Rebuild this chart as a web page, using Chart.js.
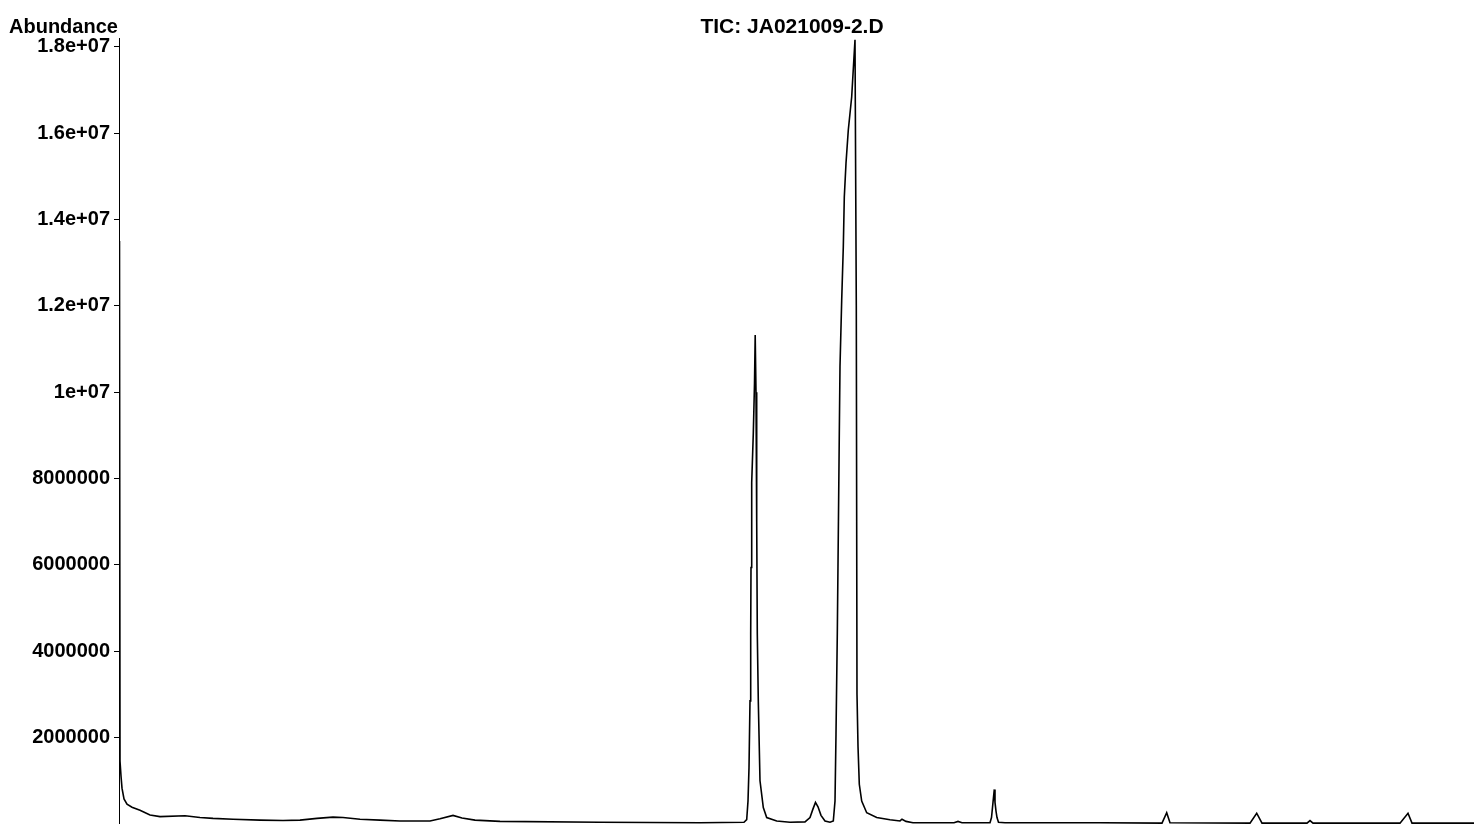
<!DOCTYPE html>
<html>
<head>
<meta charset="utf-8">
<title>TIC: JA021009-2.D</title>
<script src="https://cdn.jsdelivr.net/npm/chart.js"></script>
<style>
  html, body { margin: 0; padding: 0; background: #fff; }
  #wrap { width: 1474px; height: 824px; position: relative; overflow: hidden; }
</style>
</head>
<body>
<div id="wrap"><canvas id="tic" width="1474" height="824"></canvas></div>
<script>
// retention time (min) and abundance (counts)
var rtMin = [
  2.01, 2.02, 2.04, 2.06, 2.10, 2.16, 2.26, 2.42, 2.62, 2.82,
  3.32, 3.62, 3.88, 4.28, 4.82, 5.28, 5.62, 5.96, 6.28, 6.48,
  6.82, 7.22, 7.62, 8.22, 8.42, 8.68, 8.86, 9.12, 9.62, 11.62,
  13.62, 14.50, 14.554, 14.58, 14.60, 14.62, 14.634, 14.64, 14.654, 14.686,
  14.71, 14.724, 14.74, 14.754, 14.766, 14.786, 14.82, 14.886, 14.954, 15.154,
  15.42, 15.72, 15.82, 15.88, 15.93, 15.98, 16.04, 16.12, 16.22, 16.286,
  16.32, 16.34, 16.366, 16.386, 16.406, 16.42, 16.454, 16.486, 16.506, 16.54,
  16.586, 16.654, 16.72, 16.746, 16.76, 16.78, 16.806, 16.854, 16.954, 17.154,
  17.42, 17.62, 17.66, 17.74, 17.88, 18.70, 18.78, 18.86, 19.42, 19.45,
  19.48, 19.506, 19.52, 19.54, 19.56, 19.59, 19.72, 21.62, 22.86, 22.954,
  23.02, 24.62, 24.754, 24.86, 25.76, 25.82, 25.88, 27.62, 27.78, 27.86,
  29.1
];
var abundance = [
  13500000, 1460000, 1110000, 830000, 580000, 460000, 390000, 320000, 210000, 170000,
  190000, 150000, 130000, 110000, 90000, 80000, 90000, 130000, 160000, 150000,
  110000, 90000, 70000, 70000, 120000, 200000, 140000, 90000, 60000, 40000,
  30000, 40000, 100000, 530000, 1300000, 2850000, 4400000, 5940000, 7900000, 9040000,
  10200000, 11320000, 10000000, 7000000, 4400000, 2850000, 1000000, 380000, 150000, 70000,
  40000, 50000, 150000, 350000, 500000, 400000, 200000, 70000, 40000, 70000,
  530000, 2080000, 4400000, 6700000, 9040000, 10600000, 12130000, 13360000, 14520000, 15300000,
  16070000, 16840000, 18160000, 12000000, 3000000, 1800000, 920000, 530000, 260000, 150000,
  100000, 70000, 110000, 60000, 30000, 30000, 60000, 30000, 30000, 150000,
  500000, 800000, 500000, 300000, 150000, 40000, 30000, 30000, 20000, 260000,
  30000, 20000, 250000, 20000, 20000, 80000, 20000, 20000, 250000, 20000,
  20000
];
var yTickValues = [2000000, 4000000, 6000000, 8000000, 10000000, 12000000, 14000000, 16000000, 18000000];
var yTickLabels = ['2000000', '4000000', '6000000', '8000000', '1e+07', '1.2e+07', '1.4e+07', '1.6e+07', '1.8e+07'];

var titleText = 'TIC: JA021009-2.D';
var yTitleText = 'Abundance';

var points = rtMin.map(function (t, i) { return { x: t, y: abundance[i] }; });

var fontFamily = '"Liberation Sans", Arial, sans-serif';

var headerText = {
  id: 'headerText',
  afterDraw: function (chart) {
    var ctx = chart.ctx;
    ctx.save();
    ctx.fillStyle = '#000';
    ctx.textBaseline = 'middle';
    ctx.textAlign = 'left';
    ctx.font = 'bold 20px ' + fontFamily;
    ctx.fillText(yTitleText, 9, 27);
    ctx.textAlign = 'center';
    ctx.font = 'bold 21px ' + fontFamily;
    ctx.fillText(titleText, 792, 27);
    ctx.restore();
  }
};

new Chart(document.getElementById('tic').getContext('2d'), {
  type: 'line',
  data: {
    datasets: [{
      label: titleText,
      data: points,
      borderColor: '#000',
      borderWidth: 1.6,
      pointRadius: 0,
      tension: 0,
      fill: false
    }]
  },
  options: {
    responsive: false,
    animation: false,
    // the x axis sits on the bottom edge of the page, its labels are cut off
    layout: { padding: { top: 38, bottom: -8, left: 0, right: 0 } },
    plugins: {
      legend: { display: false },
      tooltip: { enabled: false },
      title: { display: false }
    },
    scales: {
      x: {
        type: 'linear',
        min: 2.0,
        max: 29.1,
        ticks: { display: false },
        grid: { display: false },
        border: { display: true, color: '#000', width: 1 }
      },
      y: {
        type: 'linear',
        min: 0,
        max: 18200000,
        afterBuildTicks: function (scale) {
          scale.ticks = yTickValues.map(function (v) { return { value: v }; });
        },
        afterFit: function (scale) {
          scale.width = 119;
          scale.paddingTop = 0;
          scale.paddingBottom = 0;
        },
        ticks: {
          color: '#000',
          font: { family: fontFamily, size: 20, weight: 'bold' },
          padding: 4,
          callback: function (value) {
            var i = yTickValues.indexOf(value);
            return i >= 0 ? yTickLabels[i] : '';
          }
        },
        grid: { display: true, drawOnChartArea: false, drawTicks: true, tickLength: 5, color: '#000' },
        border: { display: true, color: '#000', width: 1 }
      }
    }
  },
  plugins: [headerText]
});
</script>
</body>
</html>
